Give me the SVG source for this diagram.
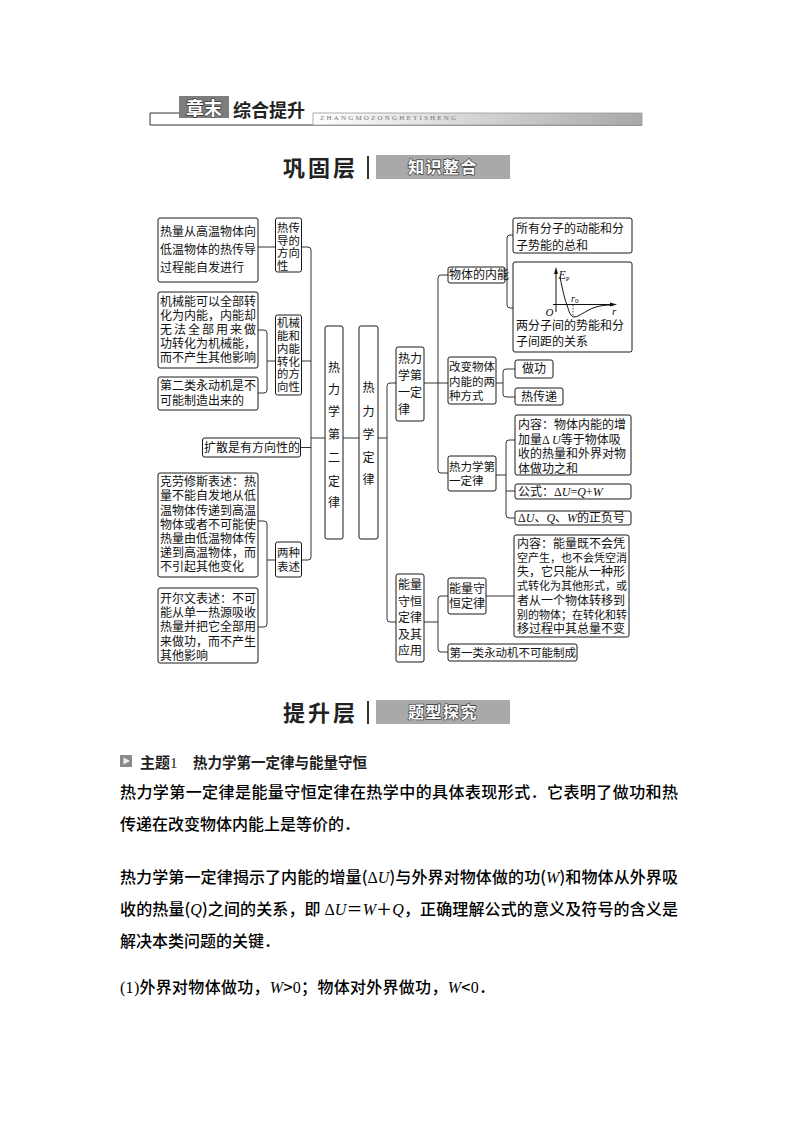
<svg xmlns="http://www.w3.org/2000/svg" width="794" height="1123" viewBox="0 0 794 1123">
<style>
.b{fill:#fff;stroke:#1a1a1a;stroke-width:1}
.t{font-family:"Noto Sans CJK SC","Noto Sans",sans-serif;font-size:12px;fill:#111}
.s{font-size:11.5px}
.n{font-size:11.4px}
.c{fill:none;stroke:#333;stroke-width:1}
.m{font-family:"Liberation Serif",serif}
.i{font-family:"Liberation Serif",serif;font-style:italic}
.body{font-family:"Noto Sans CJK SC",sans-serif;font-size:16px;fill:#000;font-weight:500}
.h1{font-family:"Noto Sans CJK SC",sans-serif;font-weight:bold;fill:#222}
.tag{font-family:"Noto Sans CJK SC",sans-serif;font-weight:bold;fill:#fff;stroke:#3a3a3a;stroke-width:1.3;paint-order:stroke}
</style>
<defs>
<linearGradient id="bar" x1="0" y1="0" x2="1" y2="0">
<stop offset="0" stop-color="#ffffff"/>
<stop offset="1" stop-color="#a8a8a8"/>
</linearGradient>
</defs>
<rect width="794" height="1123" fill="#fff"/>

<g id="header">
<path d="M179,113 H150 V125 H642" class="c" stroke="#888"/>
<rect x="313" y="113" width="329" height="12" fill="url(#bar)" stroke="#999" stroke-width="0.8"/>
<rect x="179" y="96" width="50" height="22" fill="#7d7d7d"/>
<text x="204" y="114.5" text-anchor="middle" class="tag" font-size="18">章末</text>
<text x="233" y="116.5" class="h1" font-size="18" fill="#111">综合提升</text>
<text x="320" y="120" font-family="Liberation Serif,serif" font-size="7" fill="#777" textLength="136">ZHANGMOZONGHETISHENG</text>
</g>

<g id="title1">
<text x="283" y="176" class="h1" font-size="22" textLength="72">巩固层</text>
<line x1="368" y1="156" x2="368" y2="179" stroke="#333" stroke-width="2"/>
<rect x="376" y="155" width="134" height="24" fill="#a9a9a9"/>
<text x="443" y="173" text-anchor="middle" class="tag" font-size="16" letter-spacing="1.5">知识整合</text>
</g>

<g id="connectors">
<path class="c" d="M258,247 H275.5"/>
<path class="c" d="M258,330 H264 Q267,330 267,333 V390 Q267,393 264,393 H258 M267,361 H275.5"/>
<path class="c" d="M258,521 H264 Q267,521 267,524 V624 Q267,627 264,627 H258 M267,560 H275.5"/>
<path class="c" d="M301.5,247 H308 Q311,247 311,250 V557 Q311,560 308,560 H301.5 M301.5,361 H311 M300.5,447.5 H311 M311,438 H325"/>
<path class="c" d="M343,438 H359"/>
<path class="c" d="M378,438 H387 M396,383 H390 Q387,383 387,386 V619 Q387,622 390,622 H396"/>
<path class="c" d="M424,383 H448 M448,275 H441 Q438,275 438,278 V470 Q438,473 441,473 H448"/>
<path class="c" d="M505,275 H507 M513,235 H510 Q507,235 507,238 V305 Q507,308 510,308 H513"/>
<path class="c" d="M496,383 H503 M515,369 H506 Q503,369 503,372 V394 Q503,397 506,397 H515"/>
<path class="c" d="M496,475 H506 M515,440 H509 Q506,440 506,443 V515 Q506,518 509,518 H515 M506,491 H515"/>
<path class="c" d="M424,622 H438 M448,596 H441 Q438,596 438,599 V649 Q438,652 441,652 H448"/>
<path class="c" d="M486,596 H514"/>
</g>

<g id="boxA">
<rect class="b" x="158" y="218" width="100" height="64" rx="2"/>
<text class="t"><tspan x="160" y="236.4">热量从高温物体向</tspan><tspan x="160" y="254.4">低温物体的热传导</tspan><tspan x="160" y="272.4">过程能自发进行</tspan></text>
</g>
<g id="boxB">
<rect class="b" x="275.5" y="218" width="26" height="54" rx="2"/>
<text class="t n"><tspan x="277" y="232.2">热传</tspan><tspan x="277" y="244.7">导的</tspan><tspan x="277" y="257.2">方向</tspan><tspan x="277" y="269.7">性</tspan></text>
</g>
<g id="boxC">
<rect class="b" x="158" y="292" width="100" height="76" rx="2"/>
<text class="t"><tspan x="160" y="306.4">机械能可以全部转</tspan><tspan x="160" y="320.4">化为内能，内能却</tspan><tspan x="160" y="334.4" letter-spacing="2">无法全部用来做</tspan><tspan x="160" y="348.4" letter-spacing="0">功转化为机械能，</tspan><tspan x="160" y="362.4">而不产生其他影响</tspan></text>
</g>
<g id="boxD">
<rect class="b" x="158" y="377" width="100" height="33" rx="2"/>
<text class="t"><tspan x="160" y="390.4">第二类永动机是不</tspan><tspan x="160" y="405.4">可能制造出来的</tspan></text>
</g>
<g id="boxE">
<rect class="b" x="275.5" y="315" width="26" height="80" rx="2"/>
<text class="t n"><tspan x="277" y="327.2">机械</tspan><tspan x="277" y="340">能和</tspan><tspan x="277" y="352.8">内能</tspan><tspan x="277" y="365.6">转化</tspan><tspan x="277" y="378.4">的方</tspan><tspan x="277" y="391.2">向性</tspan></text>
</g>
<g id="boxF">
<rect class="b" x="202.5" y="438" width="98" height="19" rx="2"/>
<text class="t" x="204" y="451.9">扩散是有方向性的</text>
</g>
<g id="boxG">
<rect class="b" x="158" y="473" width="100" height="104" rx="2"/>
<text class="t"><tspan x="160" y="486.1">克劳修斯表述：热</tspan><tspan x="160" y="500.3">量不能自发地从低</tspan><tspan x="160" y="514.5">温物体传递到高温</tspan><tspan x="160" y="528.7">物体或者不可能使</tspan><tspan x="160" y="542.9">热量由低温物体传</tspan><tspan x="160" y="557.1">递到高温物体，而</tspan><tspan x="160" y="571.3">不引起其他变化</tspan></text>
</g>
<g id="boxH">
<rect class="b" x="158" y="588" width="100" height="75" rx="2"/>
<text class="t"><tspan x="160" y="603">开尔文表述：不可</tspan><tspan x="160" y="617.2">能从单一热源吸收</tspan><tspan x="160" y="631.4">热量并把它全部用</tspan><tspan x="160" y="645.6">来做功，而不产生</tspan><tspan x="160" y="659.8">其他影响</tspan></text>
</g>
<g id="boxI">
<rect class="b" x="275.5" y="542" width="26" height="35" rx="2"/>
<text class="t n"><tspan x="277" y="557.2">两种</tspan><tspan x="277" y="571.2">表述</tspan></text>
</g>
<g id="boxJ">
<rect class="b" x="325" y="326" width="18" height="213" rx="2"/>
<text class="t" text-anchor="middle"><tspan x="334" y="372.4">热</tspan><tspan x="334" y="394.4">力</tspan><tspan x="334" y="416.4">学</tspan><tspan x="334" y="439.4">第</tspan><tspan x="334" y="462.4">二</tspan><tspan x="334" y="486.4">定</tspan><tspan x="334" y="507.4">律</tspan></text>
</g>
<g id="boxK">
<rect class="b" x="359" y="326" width="19" height="213" rx="2"/>
<text class="t" text-anchor="middle"><tspan x="368.5" y="392.4">热</tspan><tspan x="368.5" y="416.4">力</tspan><tspan x="368.5" y="439.4">学</tspan><tspan x="368.5" y="462.4">定</tspan><tspan x="368.5" y="484.4">律</tspan></text>
</g>
<g id="boxL">
<rect class="b" x="396" y="347" width="28" height="74" rx="2"/>
<text class="t"><tspan x="398" y="363.4">热力</tspan><tspan x="398" y="380.4">学第</tspan><tspan x="398" y="397.4">一定</tspan><tspan x="398" y="414.4">律</tspan></text>
</g>
<g id="boxM">
<rect class="b" x="396" y="574" width="28" height="88" rx="2"/>
<text class="t"><tspan x="398" y="589.4">能量</tspan><tspan x="398" y="605.9">守恒</tspan><tspan x="398" y="622.4">定律</tspan><tspan x="398" y="638.9">及其</tspan><tspan x="398" y="655.4">应用</tspan></text>
</g>
<g id="boxN">
<rect class="b" x="448" y="267" width="57" height="16" rx="2"/>
<text class="t" x="449" y="279.1" font-size="11.2">物体的内能</text>
</g>
<g id="boxO">
<rect class="b" x="448" y="357" width="48" height="47" rx="2"/>
<text class="t s"><tspan x="449" y="371.2">改变物体</tspan><tspan x="449" y="385.7">内能的两</tspan><tspan x="449" y="400.2">种方式</tspan></text>
</g>
<g id="boxP">
<rect class="b" x="448" y="456" width="48" height="35" rx="2"/>
<text class="t s"><tspan x="449" y="471.2">热力学第</tspan><tspan x="449" y="485.2">一定律</tspan></text>
</g>
<g id="boxQ">
<rect class="b" x="448" y="578" width="38" height="36" rx="2"/>
<text class="t"><tspan x="449" y="593.4">能量守</tspan><tspan x="449" y="608.4">恒定律</tspan></text>
</g>
<g id="boxR">
<rect class="b" x="448" y="644" width="129" height="17" rx="2"/>
<text class="t s" x="449.5" y="656.7">第一类永动机不可能制成</text>
</g>
<g id="boxT">
<rect class="b" x="513" y="218" width="119" height="35" rx="2"/>
<text class="t"><tspan x="516" y="233.4">所有分子的动能和分</tspan><tspan x="516" y="250.4">子势能的总和</tspan></text>
</g>
<g id="boxU">
<rect class="b" x="513" y="262" width="119" height="90" rx="2"/>
<path d="M556,312 V271" stroke="#111" stroke-width="1"/>
<path d="M556,267 L554,274 L558,274 Z" fill="#111"/>
<path d="M553,304.5 H613" stroke="#111" stroke-width="1"/>
<path d="M617,304.5 L610,302.5 L610,306.5 Z" fill="#111"/>
<path d="M560,277 C563,292 565,300 567,305 C569,312 571,317 574,317 C580,317 588,308 600,306 C606,305 610,305 613,305" fill="none" stroke="#111" stroke-width="1"/>
<path d="M573,305 V317" stroke="#111" stroke-width="0.8" stroke-dasharray="1.5,1.5"/>
<text class="i" x="558.5" y="279" font-size="12" fill="#111">E<tspan font-size="7" font-style="normal" dy="2">P</tspan></text>
<text class="i" x="545.5" y="316" font-size="11" fill="#111">O</text>
<text class="i" x="571" y="302" font-size="10" fill="#111">r<tspan font-size="7" font-style="normal" dy="1">0</tspan></text>
<text class="i" x="612" y="315" font-size="11" fill="#111">r</text>
<text class="t"><tspan x="516" y="330.4">两分子间的势能和分</tspan><tspan x="516" y="346.4">子间距的关系</tspan></text>
</g>
<g id="boxV">
<rect class="b" x="515" y="360" width="38" height="18" rx="2"/>
<text class="t" text-anchor="middle" x="534" y="373.4">做功</text>
</g>
<g id="boxW">
<rect class="b" x="515" y="388" width="48" height="17" rx="2"/>
<text class="t" text-anchor="middle" x="539" y="400.9">热传递</text>
</g>
<g id="boxX">
<rect class="b" x="515" y="415" width="116" height="60" rx="2"/>
<text class="t"><tspan x="518" y="429.4">内容：物体内能的增</tspan><tspan x="518" y="443.9">加量<tspan class="m">Δ </tspan><tspan class="i">U</tspan>等于物体吸</tspan><tspan x="518" y="458.4">收的热量和外界对物</tspan><tspan x="518" y="472.9">体做功之和</tspan></text>
</g>
<g id="boxY">
<rect class="b" x="515" y="484" width="116" height="15" rx="2"/>
<text class="t" x="518" y="495.9">公式：<tspan class="m">Δ</tspan><tspan class="i">U</tspan><tspan class="m">=</tspan><tspan class="i">Q</tspan><tspan class="m">+</tspan><tspan class="i">W</tspan></text>
</g>
<g id="boxZ">
<rect class="b" x="515" y="511" width="116" height="14" rx="2"/>
<text class="t" x="518" y="522.4"><tspan class="m">Δ</tspan><tspan class="i">U</tspan>、<tspan class="i">Q</tspan>、<tspan class="i">W</tspan>的正负号</text>
</g>
<g id="boxS">
<rect class="b" x="514" y="535" width="115" height="102" rx="2"/>
<text class="t"><tspan x="517" y="547.5">内容：能量既不会凭</tspan><tspan x="517" y="561.8" font-size="11">空产生，也不会凭空消</tspan><tspan x="517" y="576.1" font-size="12">失，它只能从一种形</tspan><tspan x="517" y="590.4" font-size="11">式转化为其他形式，或</tspan><tspan x="517" y="604.7" font-size="12">者从一个物体转移到</tspan><tspan x="517" y="619" font-size="11">别的物体；在转化和转</tspan><tspan x="517" y="633.3" font-size="12">移过程中其总量不变</tspan></text>
</g>

<g id="title2">
<text x="283" y="721" class="h1" font-size="22" textLength="72">提升层</text>
<line x1="368" y1="701" x2="368" y2="724" stroke="#333" stroke-width="2"/>
<rect x="376" y="700" width="134" height="24" fill="#a9a9a9"/>
<text x="443" y="718" text-anchor="middle" class="tag" font-size="16" letter-spacing="1.5">题型探究</text>
</g>

<g id="bodytext">
<rect x="120" y="755" width="12" height="12" fill="#8a8a8a"/>
<path d="M123.5,757.5 L130,761 L123.5,764.5 Z" fill="#eee"/>
<text x="140" y="768" class="h1" font-size="15" fill="#000">主题<tspan font-family="Liberation Serif,serif" font-weight="normal">1</tspan></text>
<text x="193" y="768" class="h1" font-size="14.5" fill="#000">热力学第一定律与能量守恒</text>
<text x="120" y="798" class="body" textLength="558">热力学第一定律是能量守恒定律在热学中的具体表现形式．它表明了做功和热</text>
<text x="120" y="830" class="body">传递在改变物体内能上是等价的．</text>
<text x="120" y="883" class="body" textLength="558">热力学第一定律揭示了内能的增量(<tspan class="m">Δ</tspan><tspan class="i">U</tspan>)与外界对物体做的功(<tspan class="i">W</tspan>)和物体从外界吸</text>
<text x="120" y="915" class="body" textLength="558">收的热量(<tspan class="i">Q</tspan>)之间的关系，即 <tspan class="m">Δ</tspan><tspan class="i">U</tspan>＝<tspan class="i">W</tspan>＋<tspan class="i">Q</tspan>，正确理解公式的意义及符号的含义是</text>
<text x="120" y="947" class="body">解决本类问题的关键．</text>
<text x="120" y="993" class="body" textLength="375"><tspan class="m">(1)</tspan>外界对物体做功，<tspan class="i">W</tspan>&gt;<tspan class="m">0</tspan>；物体对外界做功，<tspan class="i">W</tspan>&lt;<tspan class="m">0</tspan>．</text>
</g>
</svg>
